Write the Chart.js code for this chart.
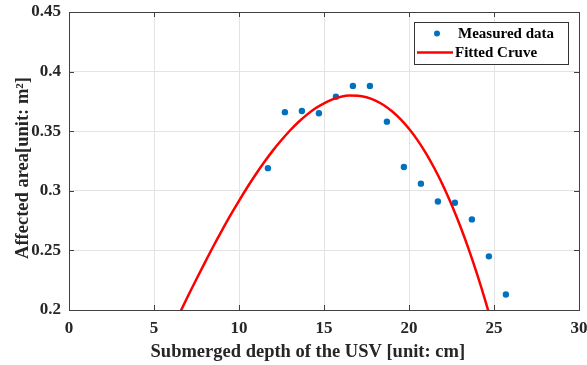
<!DOCTYPE html>
<html><head><meta charset="utf-8">
<script src="https://cdn.jsdelivr.net/npm/chart.js@4.4.0/dist/chart.umd.min.js"></script>
<style>html,body{margin:0;padding:0;background:#fff}#wrap{width:587px;height:365px}</style>
</head><body><div id="wrap"><canvas id="c" width="587" height="365"></canvas></div>
<script>
// Measured data
const depthMeasured = [11.7,12.7,13.7,14.7,15.7,16.7,17.7,18.7,19.7,20.7,21.7,22.7,23.7,24.7,25.7];
const areaMeasured  = [0.319,0.366,0.367,0.365,0.379,0.388,0.388,0.358,0.320,0.306,0.291,0.290,0.276,0.245,0.213];
// Fitted curve
const depthFit = [6.4,7,7.5,8,8.5,9,9.5,10,10.5,11,11.5,12,12.5,13,13.5,14,14.5,15,15.5,16,16.5,17,17.5,18,18.5,19,19.5,20,20.5,21,21.5,22,22.5,23,23.5,24,24.5,25];
const areaFit  = [0.194,0.2117,0.226,0.240,0.2537,0.2668,0.2795,0.2916,0.3032,0.3141,0.3243,0.3339,0.3426,0.3506,0.3577,0.3639,0.3692,0.3734,0.3767,0.3789,0.3799,0.3798,0.3785,0.3759,0.3720,0.3667,0.3601,0.3520,0.3425,0.3314,0.3187,0.3045,0.2885,0.2709,0.2515,0.2303,0.2073,0.1824];
const xTicks = [0,5,10,15,20,25,30];
const yTicks = [0.2,0.25,0.3,0.35,0.4,0.45];
const yTickLabels = ['0.2','0.25','0.3','0.35','0.4','0.45'];
const legendLabels = ['Measured data','Fitted Cruve'];
const xTitle = 'Submerged depth of the USV [unit: cm]';
const yTitle = 'Affected area[unit: m²]';

const FONT = "'Liberation Serif','Times New Roman',serif";
const TXT = '#262626';
const BLUE = '#0072BD';
const RED = '#FF0000';
const NB = '\u00a0';

const boxPlugin = {
  id: 'boxPlugin',
  afterDatasetsDraw(chart) {
    const {ctx, chartArea: a, scales} = chart;
    ctx.save();
    ctx.strokeStyle = '#404040';
    ctx.lineWidth = 1;
    ctx.beginPath();
    ctx.rect(Math.round(a.left)+0.5, Math.round(a.top)+0.5, Math.round(a.right-a.left), Math.round(a.bottom-a.top));
    ctx.stroke();
    const tl = 5;
    ctx.beginPath();
    xTicks.forEach(v => {
      const x = Math.round(scales.x.getPixelForValue(v)) + 0.5;
      ctx.moveTo(x, a.bottom); ctx.lineTo(x, a.bottom - tl);
      ctx.moveTo(x, a.top); ctx.lineTo(x, a.top + tl);
    });
    yTicks.forEach(v => {
      const y = Math.round(scales.y.getPixelForValue(v)) + 0.5;
      ctx.moveTo(a.left, y); ctx.lineTo(a.left + tl, y);
      ctx.moveTo(a.right, y); ctx.lineTo(a.right - tl, y);
    });
    ctx.stroke();
    // legend
    const bx = 414.5, by = 22.5, bw = 154, bh = 42;
    ctx.fillStyle = '#fff';
    ctx.fillRect(bx, by, bw, bh);
    ctx.strokeStyle = '#333';
    ctx.strokeRect(bx, by, bw, bh);
    ctx.fillStyle = BLUE;
    ctx.beginPath(); ctx.arc(437, 33.5, 3, 0, Math.PI*2); ctx.fill();
    ctx.strokeStyle = RED; ctx.lineWidth = 2.5;
    ctx.beginPath(); ctx.moveTo(417, 52.5); ctx.lineTo(453, 52.5); ctx.stroke();
    ctx.fillStyle = '#000';
    ctx.font = "bold 15px " + FONT;
    ctx.textBaseline = 'middle';
    ctx.textAlign = 'left';
    ctx.fillText(legendLabels[0], 458, 34);
    ctx.fillText(legendLabels[1], 455, 53);
    ctx.restore();
  }
};

new Chart(document.getElementById('c'), {
  type: 'scatter',
  data: {
    datasets: [
      {
        label: legendLabels[1],
        data: depthFit.map((x,i) => ({x, y: areaFit[i]})),
        showLine: true,
        borderColor: RED,
        borderWidth: 2.5,
        pointRadius: 0,
        cubicInterpolationMode: 'monotone',
        clip: 0
      },
      {
        label: legendLabels[0],
        data: depthMeasured.map((x,i) => ({x, y: areaMeasured[i]})),
        backgroundColor: BLUE,
        borderColor: BLUE,
        pointRadius: 3.2,
        borderWidth: 0
      }
    ]
  },
  options: {
    responsive: false,
    animation: false,
    devicePixelRatio: 1,
    layout: {padding: {top: 12, right: 8, left: 0, bottom: 0}},
    plugins: {legend: {display: false}, tooltip: {enabled: false}},
    scales: {
      x: {
        type: 'linear', min: 0, max: 30,
        afterBuildTicks: s => { s.ticks = xTicks.map(v => ({value: v})); },
        afterFit: s => { s.height = 55; s.paddingLeft = 0; s.paddingRight = 0; },
        ticks: {color: TXT, font: {family: FONT, size: 17, weight: 'bold'}, padding: 8, maxRotation: 0},
        grid: {color: '#e3e3e3', drawTicks: false},
        border: {display: true, color: '#404040'},
        title: {display: true, text: xTitle + NB.repeat(7), color: TXT,
                font: {family: FONT, size: 18.5, weight: 'bold'}, padding: {top: 0, bottom: 2}}
      },
      y: {
        type: 'linear', min: 0.2, max: 0.45,
        afterBuildTicks: s => { s.ticks = yTicks.map(v => ({value: v})); },
        afterFit: s => { s.width = 69; s.paddingTop = 0; s.paddingBottom = 0; },
        ticks: {color: TXT, font: {family: FONT, size: 17, weight: 'bold'}, padding: 8,
                callback: (v) => { const i = yTicks.findIndex(t => Math.abs(t - v) < 1e-9); return i >= 0 ? yTickLabels[i] : ''; }},
        grid: {color: '#e3e3e3', drawTicks: false},
        border: {display: true, color: '#404040'},
        title: {display: true, text: yTitle + NB.repeat(3), color: TXT,
                font: {family: FONT, size: 18.5, weight: 'bold'}, padding: {top: 12, bottom: 0}}
      }
    }
  },
  plugins: [boxPlugin]
});
</script></body></html>
